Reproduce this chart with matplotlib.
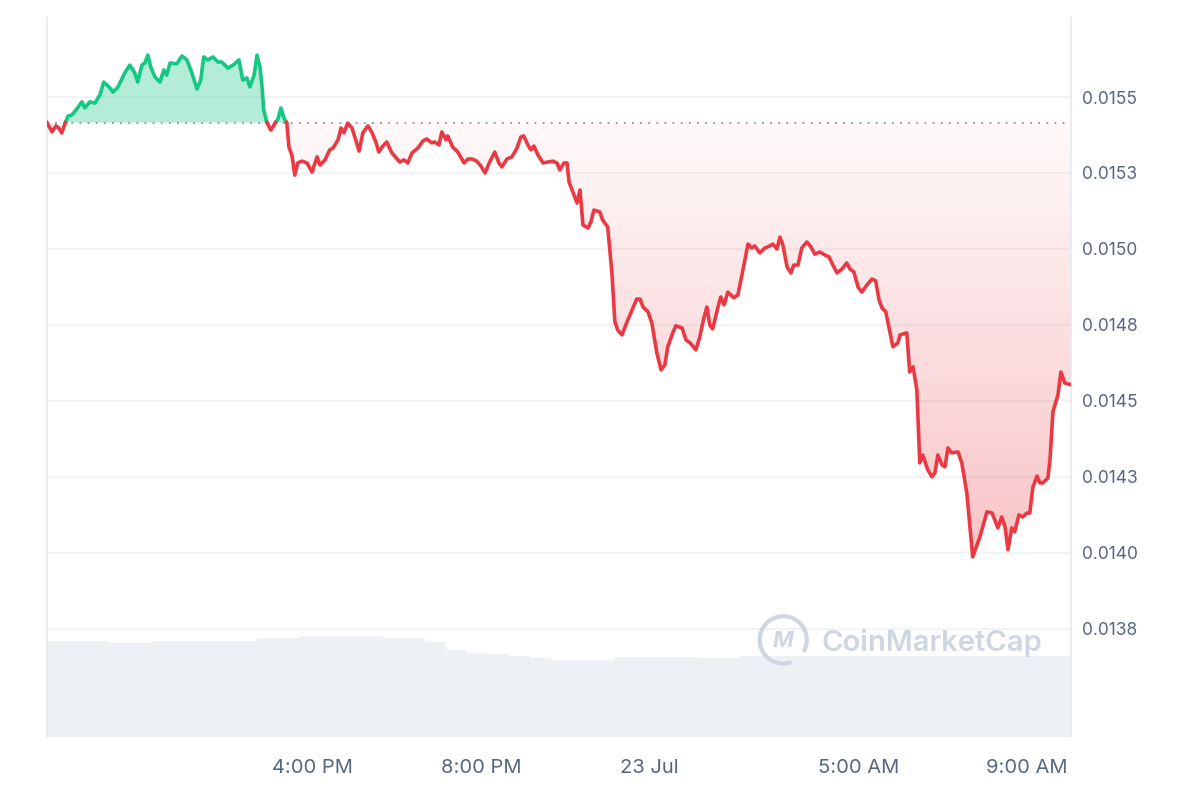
import numpy as np
import matplotlib
matplotlib.use("Agg")
import matplotlib.pyplot as plt
from matplotlib.path import Path
from matplotlib.patches import Arc
from matplotlib.colors import to_rgb

plt.rcParams['font.family'] = ['Inter', 'DejaVu Sans']

# price trace, hours relative to 23 Jul 00:00
hours = [-14.33, -14.21, -14.12, -14.05, -13.98, -13.88, -13.83, -13.74, -13.64, -13.50,
         -13.43, -13.31, -13.19, -13.07, -12.98, -12.83, -12.76, -12.64, -12.48, -12.36,
         -12.24, -12.17, -12.07, -12.00, -11.93, -11.86, -11.76, -11.64, -11.55, -11.48,
         -11.40, -11.24, -11.12, -11.00, -10.88, -10.76, -10.67, -10.60, -10.50, -10.38,
         -10.26, -10.17, -10.02, -9.90, -9.76, -9.67, -9.57, -9.50, -9.40, -9.33,
         -9.26, -9.21, -9.17, -9.10, -9.00, -8.90, -8.83, -8.76, -8.69, -8.62,
         -8.57, -8.50, -8.43, -8.36, -8.26, -8.14, -8.02, -7.90, -7.83, -7.71,
         -7.60, -7.52, -7.40, -7.33, -7.26, -7.17, -7.07, -6.98, -6.90, -6.81,
         -6.69, -6.60, -6.50, -6.43, -6.33, -6.24, -6.12, -5.93, -5.83, -5.74,
         -5.64, -5.50, -5.38, -5.29, -5.17, -5.10, -5.00, -4.93, -4.83, -4.79,
         -4.67, -4.55, -4.40, -4.31, -4.21, -4.10, -4.00, -3.90, -3.79, -3.67,
         -3.57, -3.50, -3.38, -3.26, -3.14, -3.05, -2.98, -2.88, -2.81, -2.74,
         -2.64, -2.52, -2.40, -2.29, -2.19, -2.12, -2.02, -1.95, -1.90, -1.81,
         -1.71, -1.64, -1.57, -1.45, -1.38, -1.31, -1.17, -1.10, -0.98, -0.88,
         -0.81, -0.74, -0.64, -0.52, -0.40, -0.29, -0.21, -0.14, -0.02, 0.07,
         0.19, 0.29, 0.38, 0.45, 0.57, 0.64, 0.79, 0.88, 0.98, 1.12,
         1.21, 1.31, 1.38, 1.45, 1.52, 1.64, 1.71, 1.79, 1.88, 2.02,
         2.12, 2.24, 2.36, 2.45, 2.52, 2.64, 2.76, 2.88, 2.95, 3.05,
         3.12, 3.19, 3.29, 3.38, 3.45, 3.55, 3.64, 3.76, 3.86, 3.95,
         4.07, 4.19, 4.29, 4.38, 4.48, 4.60, 4.71, 4.79, 4.88, 4.98,
         5.07, 5.19, 5.31, 5.40, 5.48, 5.55, 5.64, 5.81, 5.93, 5.98,
         6.05, 6.14, 6.21, 6.29, 6.38, 6.45, 6.52, 6.64, 6.74, 6.81,
         6.88, 6.98, 7.05, 7.12, 7.21, 7.36, 7.45, 7.57, 7.71, 7.88,
         8.05, 8.17, 8.31, 8.40, 8.48, 8.55, 8.64, 8.71, 8.81, 8.90,
         9.00, 9.07, 9.14, 9.24, 9.31, 9.38, 9.50, 9.55, 9.62, 9.74,
         9.81, 9.90, 10.05]

prices = [0.015416, 0.015385, 0.015405, 0.015398, 0.015382, 0.015420, 0.015437, 0.015441, 0.015457, 0.015484,
          0.015464, 0.015484, 0.015480, 0.015507, 0.015549, 0.015530, 0.015516, 0.015533, 0.015579, 0.015605,
          0.015579, 0.015549, 0.015605, 0.015612, 0.015638, 0.015599, 0.015566, 0.015549, 0.015589, 0.015572,
          0.015612, 0.015609, 0.015635, 0.015622, 0.015579, 0.015526, 0.015556, 0.015632, 0.015622, 0.015632,
          0.015615, 0.015615, 0.015595, 0.015605, 0.015622, 0.015556, 0.015563, 0.015533, 0.015572, 0.015638,
          0.015599, 0.015533, 0.015457, 0.015418, 0.015391, 0.015414, 0.015428, 0.015464, 0.015431, 0.015414,
          0.015335, 0.015309, 0.015243, 0.015283, 0.015289, 0.015283, 0.015253, 0.015303, 0.015276, 0.015293,
          0.015326, 0.015332, 0.015359, 0.015398, 0.015382, 0.015414, 0.015398, 0.015359, 0.015322, 0.015382,
          0.015405, 0.015385, 0.015352, 0.015319, 0.015339, 0.015352, 0.015316, 0.015286, 0.015293, 0.015283,
          0.015316, 0.015332, 0.015355, 0.015362, 0.015349, 0.015352, 0.015342, 0.015385, 0.015359, 0.015372,
          0.015335, 0.015319, 0.015283, 0.015296, 0.015296, 0.015289, 0.015273, 0.015250, 0.015286, 0.015319,
          0.015283, 0.015270, 0.015296, 0.015303, 0.015332, 0.015368, 0.015372, 0.015342, 0.015326, 0.015339,
          0.015309, 0.015283, 0.015286, 0.015289, 0.015283, 0.015260, 0.015283, 0.015283, 0.015220, 0.015187,
          0.015151, 0.015194, 0.015079, 0.015069, 0.015089, 0.015128, 0.015122, 0.015095, 0.015072, 0.014921,
          0.014760, 0.014733, 0.014717, 0.014760, 0.014799, 0.014835, 0.014835, 0.014809, 0.014793, 0.014756,
          0.014658, 0.014602, 0.014618, 0.014678, 0.014724, 0.014747, 0.014740, 0.014701, 0.014691, 0.014668,
          0.014710, 0.014773, 0.014809, 0.014750, 0.014737, 0.014806, 0.014842, 0.014816, 0.014858, 0.014839,
          0.014849, 0.014931, 0.015016, 0.015003, 0.015010, 0.014987, 0.015003, 0.015010, 0.015016, 0.015000,
          0.015039, 0.015013, 0.014941, 0.014921, 0.014947, 0.014947, 0.015003, 0.015023, 0.015006, 0.014983,
          0.014990, 0.014980, 0.014974, 0.014947, 0.014921, 0.014934, 0.014954, 0.014934, 0.014924, 0.014875,
          0.014858, 0.014881, 0.014901, 0.014895, 0.014832, 0.014806, 0.014793, 0.014678, 0.014691, 0.014717,
          0.014720, 0.014724, 0.014595, 0.014612, 0.014536, 0.014296, 0.014322, 0.014273, 0.014250, 0.014263,
          0.014322, 0.014289, 0.014283, 0.014345, 0.014329, 0.014332, 0.014296, 0.014197, 0.013987, 0.014052,
          0.014135, 0.014131, 0.014082, 0.014118, 0.014085, 0.014010, 0.014082, 0.014069, 0.014125, 0.014118,
          0.014131, 0.014131, 0.014214, 0.014253, 0.014230, 0.014230, 0.014246, 0.014306, 0.014464, 0.014520,
          0.014595, 0.014559, 0.014553]

# 24h volume, half-hour bars (arbitrary units)
volume = [9.6, 9.6, 9.6, 9.4, 9.4, 9.6, 9.6, 9.6, 9.6, 9.6,
          9.9, 9.9, 10.1, 10.1, 10.1, 10.1, 9.9, 9.9, 9.5, 8.7,
          8.4, 8.3, 8.1, 7.9, 7.7, 7.7, 7.7, 8.0, 8.0, 8.0,
          8.0, 7.9, 7.9, 8.1, 8.1, 8.1, 8.1, 8.1, 8.1, 8.1,
          8.1, 8.1, 8.1, 8.1, 8.1, 8.1, 8.1, 8.1, 8.1]
vol_start = -14.33
vol_step = 0.5

price_ticks = [0.01375, 0.014, 0.01425, 0.0145, 0.01475, 0.015, 0.01525, 0.0155]
price_labels = ['0.0138', '0.0140', '0.0143', '0.0145', '0.0148', '0.0150', '0.0153', '0.0155']
time_ticks = [-8, -4, 0, 5, 9]
time_labels = ['4:00 PM', '8:00 PM', '23 Jul', '5:00 AM', '9:00 AM']

GREEN = '#16c784'
RED = '#ea3943'
GRID = '#eff2f5'
TXT = '#58667e'

t = np.array(hours)
p = np.array(prices)
base = p[0]

# add the crossing points so the two colours meet on the baseline
tt = [t[0]]
pp = [p[0]]
for i in range(1, len(t)):
    a = p[i-1] - base
    b = p[i] - base
    if a * b < 0:
        tt.append(t[i-1] + (t[i] - t[i-1]) * a / (a - b))
        pp.append(base)
    tt.append(t[i])
    pp.append(p[i])
tt = np.array(tt)
pp = np.array(pp)

fig = plt.figure(figsize=(12, 8), dpi=100)
ax = fig.add_axes([47/1200, 63/800, 1024/1200, 719/800])
axv = ax.twinx()
ax.set_zorder(axv.get_zorder() + 1)
ax.patch.set_visible(False)

# volume
centers = vol_start + vol_step/2 + vol_step*np.arange(len(volume))
axv.bar(centers, volume, width=vol_step, color='#edf0f4', linewidth=0)
axv.set_ylim(0, 71.9)
axv.set_yticks([])
for s in axv.spines.values():
    s.set_visible(False)

# grid
for v in price_ticks:
    ax.axhline(v, color=GRID, lw=1.2, zorder=0)

# fills
ax.fill_between(tt, base, pp, where=pp >= base, color=GREEN, alpha=0.32, lw=0, zorder=1)
poly = ax.fill_between(tt, base, pp, where=pp <= base, color='none', lw=0)
clip = Path.make_compound_path(*poly.get_paths())
r, g, b = to_rgb(RED)
grad = np.zeros((256, 1, 4))
grad[:, 0, 0] = r
grad[:, 0, 1] = g
grad[:, 0, 2] = b
grad[:, 0, 3] = np.linspace(0.03, 0.30, 256)
im = ax.imshow(grad, extent=[t.min(), t.max(), pp.min(), base], origin='upper',
               aspect='auto', zorder=1)
im.set_clip_path(clip, ax.transData)

# baseline
ax.axhline(base, color='#8f949c', lw=1.3, ls=(0, (1, 3.5)), zorder=2)

# price line
up = np.where(pp >= base, pp, np.nan)
dn = np.where(pp <= base, pp, np.nan)
ax.plot(tt, up, color=GREEN, lw=2.6, solid_joinstyle='round', zorder=3)
ax.plot(tt, dn, color=RED, lw=2.6, solid_joinstyle='round', zorder=3)

ax.set_xlim(-14.33, 10.05)
ax.set_ylim(0.013394, 0.01576)

ax.yaxis.tick_right()
ax.set_yticks(price_ticks)
ax.set_yticklabels(price_labels)
ax.set_xticks(time_ticks)
ax.set_xticklabels(time_labels)
ax.tick_params(axis='y', length=0, pad=8, labelcolor=TXT, labelsize=12.5)
ax.tick_params(axis='x', length=0, pad=16, labelcolor=TXT, labelsize=14.5)

for k in ['top', 'bottom']:
    ax.spines[k].set_visible(False)
for k in ['left', 'right']:
    ax.spines[k].set_color('#e6e9ee')
    ax.spines[k].set_linewidth(1.2)

# watermark
wm = '#cfd6e2'
ax.add_patch(Arc((0.719, 0.135), 0.046, 0.066, theta1=-40, theta2=285,
                 transform=ax.transAxes, color=wm, lw=3, zorder=2))
ax.text(0.719, 0.133, 'M', transform=ax.transAxes, ha='center', va='center',
        fontsize=16, color=wm, fontweight='bold', style='italic', zorder=2)
ax.text(0.756, 0.131, 'CoinMarketCap', transform=ax.transAxes, ha='left', va='center',
        fontsize=21, color=wm, fontweight='semibold', zorder=2)

fig.savefig('out.png', dpi=100)
